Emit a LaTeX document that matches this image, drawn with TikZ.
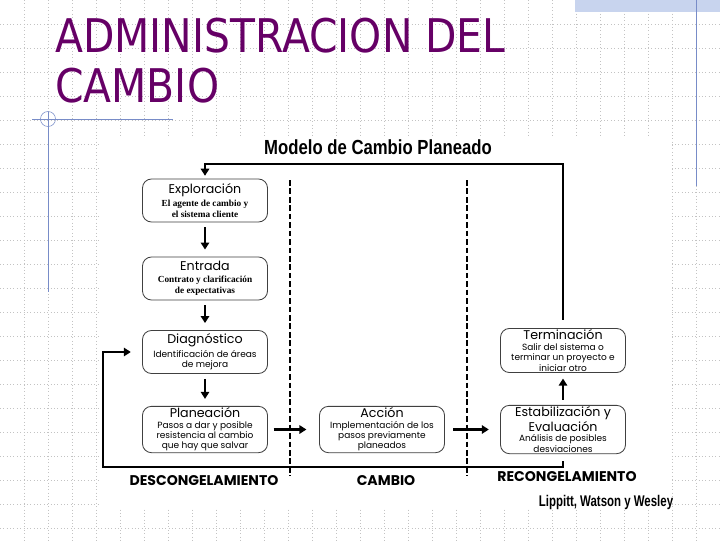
\documentclass[tikz,border=0pt]{standalone}
\usepackage{fontspec}
\usetikzlibrary{arrows.meta}
\setmainfont{Liberation Serif}
\newfontfamily\slidefont[FakeStretch=0.88]{DejaVu Sans}
\newfontfamily\gothic{Poppins}
\newfontfamily\condfont[FakeStretch=0.82]{Liberation Sans}
\newfontfamily\autfont[FakeStretch=0.74]{Liberation Sans}
\definecolor{titulo}{RGB}{102,0,102}
\definecolor{azul}{RGB}{120,140,200}
\definecolor{franja}{RGB}{200,212,238}
\definecolor{rejilla}{RGB}{195,195,195}
\newcommand\tcaja{\gothic\mdseries\fontsize{9}{10.5}\selectfont}

\tikzset{
  caja/.style={draw=black!75, line width=0.6pt, rounded corners=0.225cm,
    minimum width=3.125cm, minimum height=1.075cm, inner sep=1pt, align=center,
    font=\gothic\fontsize{6.4}{7.4}\selectfont},
  cajaserif/.style={caja, font=\bfseries\fontsize{6.6}{7.8}\selectfont},
  flecha/.style={line width=1.8pt, -{Triangle[length=5pt,width=6pt]}},
  corte/.style={line width=1.6pt, dash pattern=on 4pt off 2pt},
  etiqueta/.style={font=\gothic\bfseries\fontsize{10}{12}\selectfont}
}

\begin{document}
\begin{tikzpicture}[x=0.025cm,y=-0.025cm]
    \useasboundingbox (0,0) rectangle (720,540);
    % fondo de la diapositiva
    \foreach \i in {24,48,...,696} \draw[rejilla,dotted] (\i,0) -- (\i,540);
    \foreach \j in {24,48,...,528} \draw[rejilla,dotted] (0,\j) -- (720,\j);
    \fill[franja] (575,0) rectangle (720,12);
    \fill[white] (100,136) rectangle (672,508);
    \draw[azul] (696,0) -- (696,186);
    \draw[azul] (32,119) -- (173,119);
    \draw[azul] (48,112) -- (48,292);
    \draw[azul] (48,119) circle[radius=7.5];

    \node[anchor=base west, inner sep=0, text=titulo, font=\slidefont\fontsize{33}{40}\selectfont] (tit1) at (55,52) {ADMINISTRACION DEL};
    \node[anchor=base west, inner sep=0, text=titulo, font=\slidefont\fontsize{33}{40}\selectfont] (tit2) at (55,102) {CAMBIO};

    \node[font=\condfont\bfseries\fontsize{14.5}{16}\selectfont] (modelo) at (378,147) {Modelo de Cambio Planeado};

    % columnas
    \node[cajaserif] (expl) at (205,200.5) {{\tcaja Exploración}\\[1pt]El agente de cambio y\\el sistema cliente};
    \node[cajaserif] (entr) at (205,278.5) {{\tcaja Entrada}\\[1pt]Contrato y clarificación\\de expectativas};
    \node[caja] (diag) at (205,352) {{\tcaja Diagnóstico}\\[1pt]Identificación de áreas\\de mejora};
    \node[caja] (plan) at (205,429.5) {{\tcaja Planeación}\\Pasos a dar y posible\\resistencia al cambio\\que hay que salvar};
    \node[caja] (acc) at (382,429.5) {{\tcaja Acción}\\Implementación de los\\pasos previamente\\planeados};
    \node[caja] (estab) at (563,429.5) {{\tcaja Estabilización y}\\{\tcaja Evaluación}\\Análisis de posibles\\desviaciones};
    \node[caja] (term) at (563,350.5) {{\tcaja Terminación}\\Salir del sistema o\\terminar un proyecto e\\iniciar otro};

    \coordinate (arriba) at (205,164);
    \coordinate (izq) at (103,467);

    \draw[corte] (290,180) -- (290,476);
    \draw[corte] (467,180) -- (467,476);

    \draw[flecha, shorten <=3.5pt, shorten >=5pt] (expl) -- (entr);
    \draw[flecha, shorten <=3.5pt, shorten >=5pt] (entr) -- (diag);
    \draw[flecha, shorten <=3.5pt, shorten >=5pt] (diag) -- (plan);
    \draw[flecha, shorten <=4pt, shorten >=9pt] (plan) -- (acc);
    \draw[flecha, shorten <=6pt, shorten >=8pt] (acc) -- (estab);
    \draw[flecha, shorten <=3.5pt, shorten >=4pt] (estab) -- (term);

    \draw[flecha, shorten <=6pt, shorten >=2pt] (term.north) |- (arriba) -- (expl.north);
    \draw[flecha, shorten <=5pt, shorten >=8pt] (estab.south) |- (izq) |- (diag.west);

    \node[etiqueta] (descong) at (204,481) {DESCONGELAMIENTO};
    \node[etiqueta] (cambio) at (386,481) {CAMBIO};
    \node[etiqueta] (recong) at (567,477) {RECONGELAMIENTO};

    \node[font=\autfont\bfseries\fontsize{11}{13}\selectfont] (autores) at (606,502) {Lippitt, Watson y Wesley};
\end{tikzpicture}
\end{document}
